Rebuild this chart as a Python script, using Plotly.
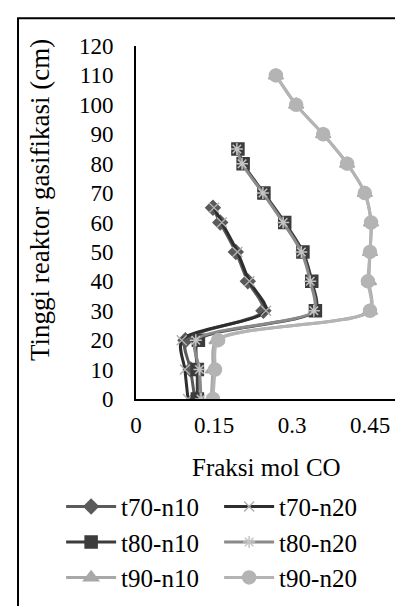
import plotly.graph_objects as go

# Heights (cm)
h_t70 = [0, 10, 20, 30, 40, 50, 60, 65]
h_t80 = [0, 10, 20, 30, 40, 50, 60, 70, 80, 85]
h_t90 = [0, 10, 20, 30, 40, 50, 60, 70, 80, 90, 100, 110]

# CO mole fraction
co_t70_n10 = [0.113, 0.105, 0.095, 0.245, 0.215, 0.192, 0.162, 0.148]
co_t70_n20 = [0.100, 0.094, 0.088, 0.250, 0.218, 0.195, 0.165, 0.150]
co_t80_n10 = [0.118, 0.118, 0.120, 0.345, 0.338, 0.321, 0.286, 0.246, 0.206, 0.196]
co_t80_n20 = [0.125, 0.122, 0.115, 0.342, 0.335, 0.318, 0.283, 0.244, 0.204, 0.194]
co_t90_n10 = [0.145, 0.148, 0.155, 0.450, 0.448, 0.450, 0.452, 0.440, 0.406, 0.360, 0.308, 0.269]
co_t90_n20 = [0.148, 0.152, 0.158, 0.450, 0.446, 0.450, 0.452, 0.440, 0.406, 0.360, 0.308, 0.269]

x_ticks = [0, 0.15, 0.3, 0.45]
x_tick_text = ["0", "0.15", "0.3", "0.45"]
y_ticks = list(range(0, 121, 10))

series = [
    ("t70-n10", co_t70_n10, h_t70, "#5a5a5a", "diamond", "#5a5a5a", 11),
    ("t70-n20", co_t70_n20, h_t70, "#2e2e2e", "x-thin", "#b0b0b0", 10),
    ("t80-n10", co_t80_n10, h_t80, "#3c3c3c", "square", "#3c3c3c", 12),
    ("t80-n20", co_t80_n20, h_t80, "#8a8a8a", "asterisk", "#c4c4c4", 10),
    ("t90-n10", co_t90_n10, h_t90, "#a8a8a8", "triangle-up", "#a8a8a8", 13),
    ("t90-n20", co_t90_n20, h_t90, "#b4b4b4", "circle", "#b4b4b4", 13),
]

fig = go.Figure()
for name, xs, ys, lc, sym, mc, ms in series:
    fig.add_trace(go.Scatter(
        x=xs, y=ys, name=name, mode="lines+markers",
        line=dict(color=lc, width=3, shape="spline", smoothing=0.8),
        marker=dict(symbol=sym, color=mc, size=ms,
                    line=dict(color=mc, width=1.5)),
    ))

font_family = "Liberation Serif, Times New Roman, serif"

fig.update_layout(
    width=403, height=606,
    margin=dict(l=128, r=15, t=38, b=215, autoexpand=False),
    paper_bgcolor="white", plot_bgcolor="white",
    font=dict(family=font_family, color="black", size=22),
    showlegend=True,
    legend=dict(
        orientation="h", x=-0.288, y=-0.24, xanchor="left", yanchor="top",
        entrywidth=93, entrywidthmode="pixels",
        font=dict(size=25, family=font_family, color="black"),
        itemwidth=50, bgcolor="rgba(0,0,0,0)",
    ),
    xaxis=dict(
        range=[0, 0.5], tickvals=x_ticks, ticktext=x_tick_text,
        showline=True, linecolor="black", linewidth=2,
        showgrid=False, zeroline=False, ticks="",
        ticklabelstandoff=4, tickfont=dict(size=23),
    ),
    yaxis=dict(
        range=[0, 120], tickvals=y_ticks,
        showline=True, linecolor="black", linewidth=2,
        showgrid=False, zeroline=False, ticks="",
        ticklabelstandoff=16, tickfont=dict(size=23),
    ),
    annotations=[
        dict(text="Tinggi reaktor gasifikasi (cm)", xref="paper", yref="paper",
             x=-0.369, y=0.564, textangle=-90, showarrow=False,
             font=dict(size=27, family=font_family, color="black"),
             xanchor="center", yanchor="middle"),
        dict(text="Fraksi mol CO", xref="paper", yref="paper",
             x=0.5, y=-0.195, showarrow=False,
             font=dict(size=25, family=font_family, color="black"),
             xanchor="center", yanchor="middle"),
    ],
    shapes=[
        dict(type="rect", xref="paper", yref="paper",
             x0=-0.4538, x1=1.2, y0=-0.7, y1=1.0789,
             line=dict(color="black", width=2), fillcolor="rgba(0,0,0,0)",
             layer="below"),
    ],
)

fig.write_html("out.html")
